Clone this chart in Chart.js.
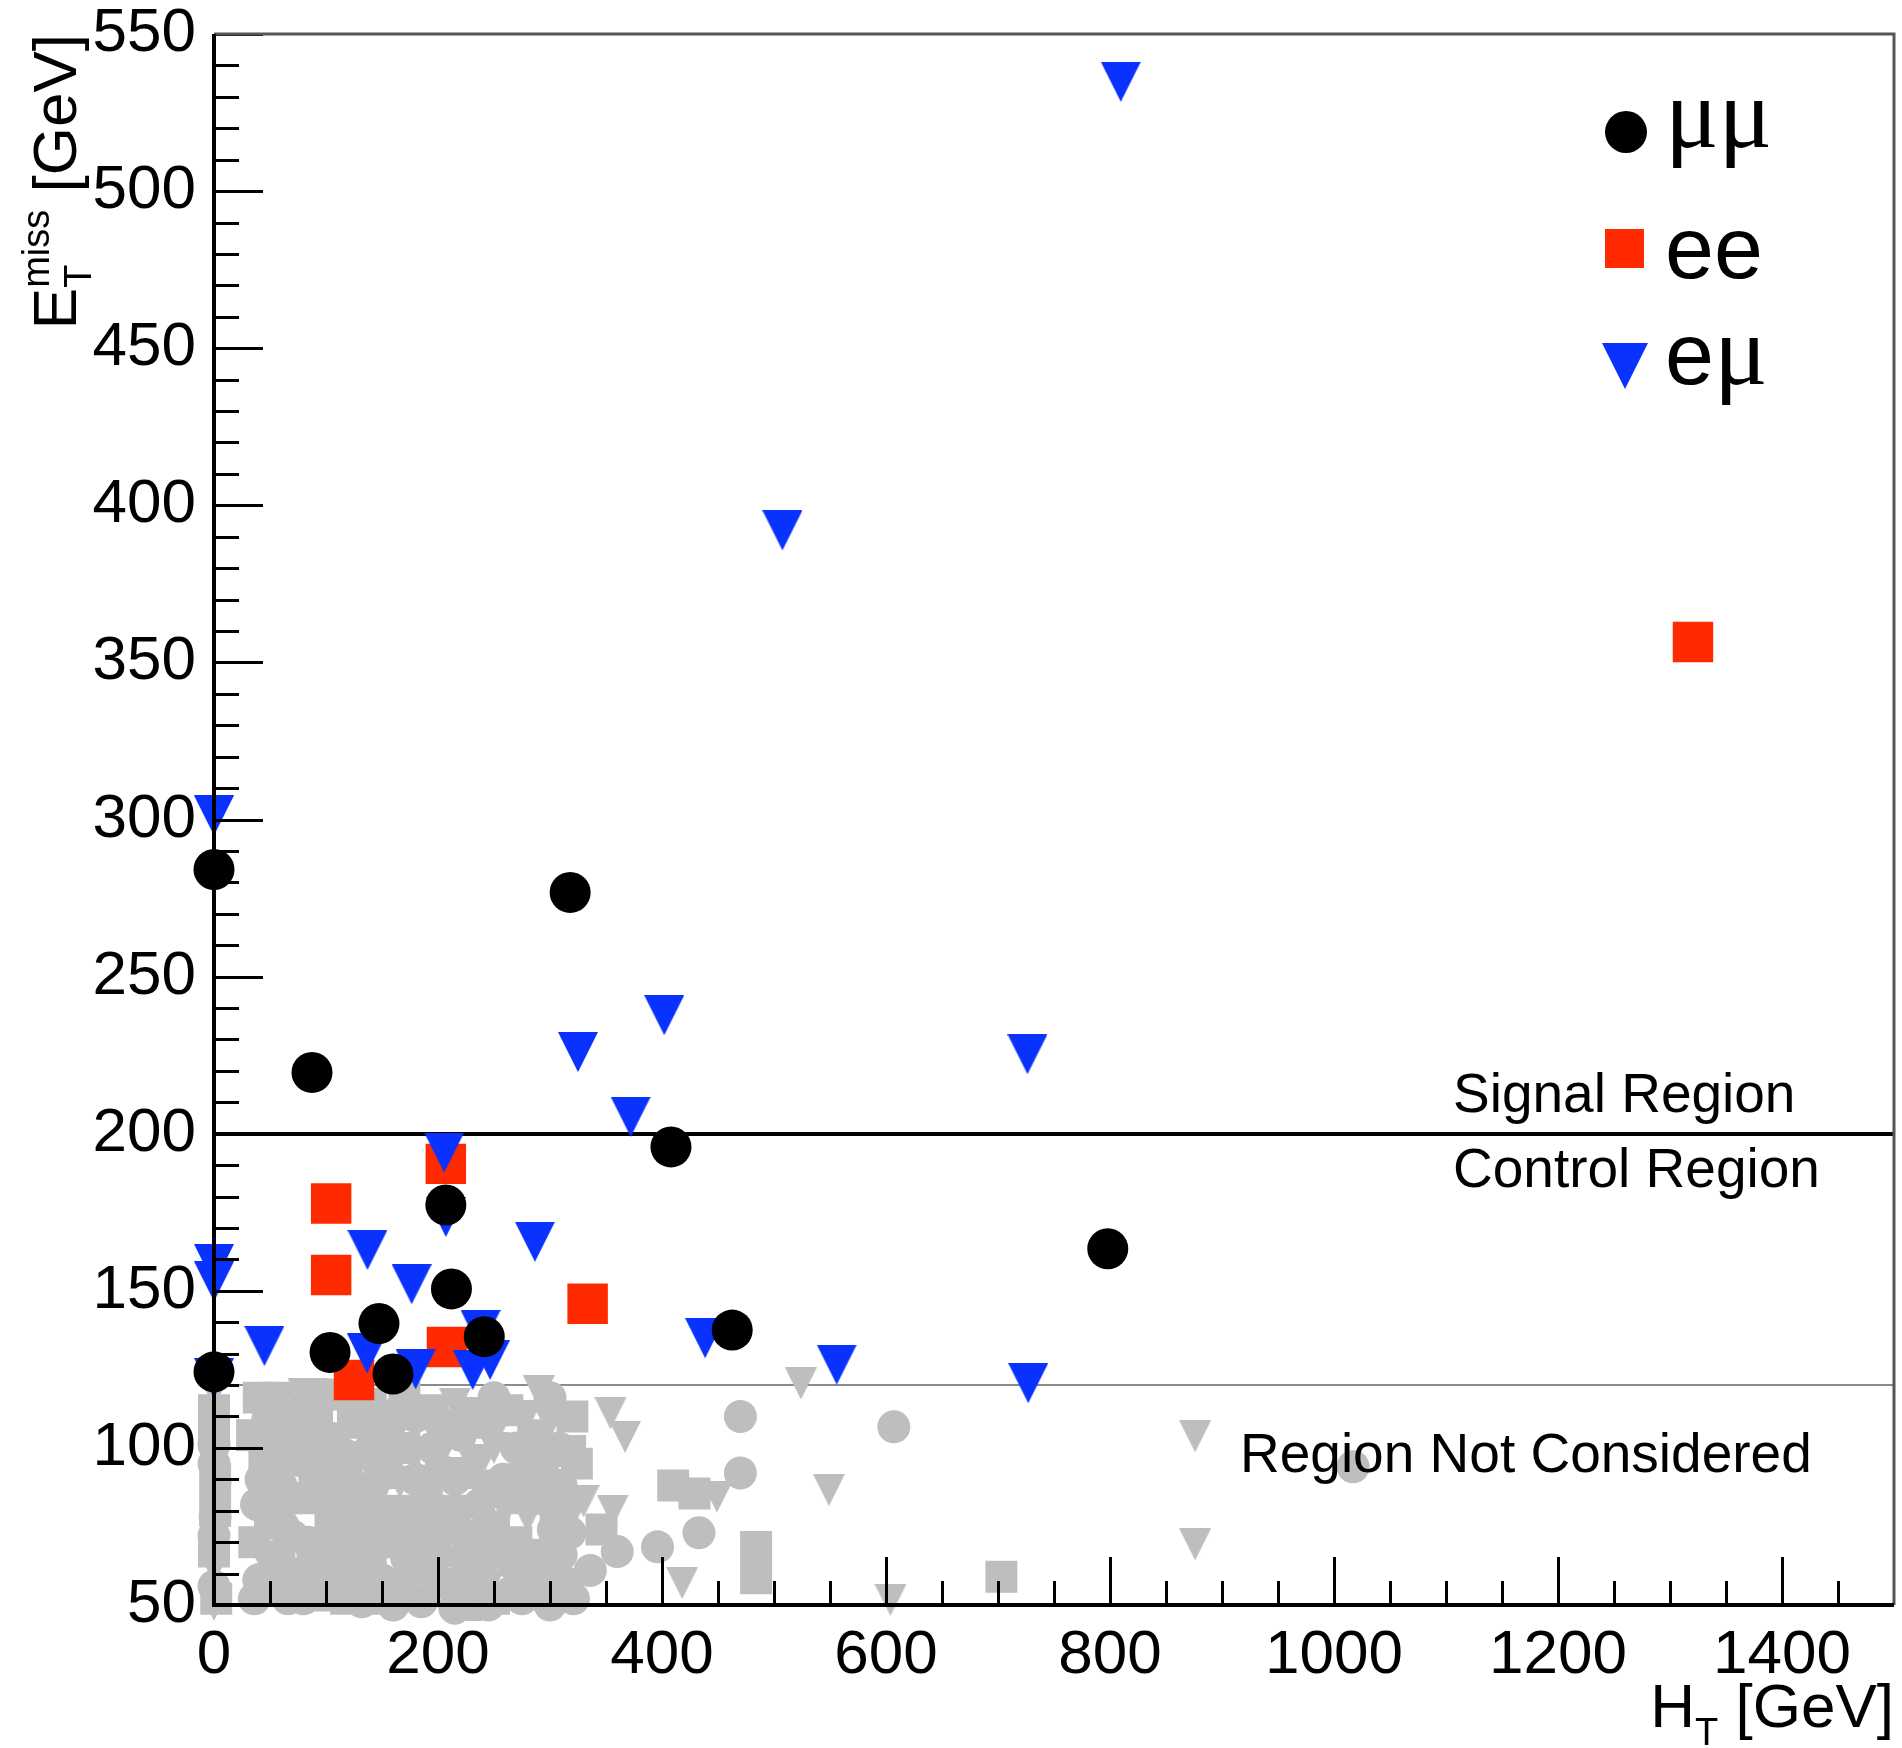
<!DOCTYPE html>
<html>
<head>
<meta charset="utf-8">
<title>MET vs HT</title>
<script src="https://cdn.jsdelivr.net/npm/chart.js@4.4.0/dist/chart.umd.min.js"></script>
<style>
  html, body { margin: 0; padding: 0; background: #fff; }
  #plot { display: block; }
</style>
</head>
<body>
<canvas id="plot" width="1902" height="1748"></canvas>
<script>
'use strict';

// selected events, split by flavour (HT, MET in GeV)
var mumuHT  = [0, 318, 87.5, 408, 207, 798, 212, 147.3, 241.3, 462.7, 103.6, 159.8, 0];
var mumuMET = [284.1, 276.8, 219.5, 195.8, 177.3, 163.4, 150.6, 139.6, 135.4, 137.5, 130.4, 123.5, 124.2];

var eeHT  = [1320.5, 207, 104.6, 104.6, 333.6, 208, 125];
var eeMET = [356.5, 190.4, 177.8, 155, 145.9, 132.1, 121.6];

var emuHT  = [809.6, 507.5, 0, 402, 325, 726.3, 372, 205.5, 0, 0, 137, 286.5, 176.5, 45, 136.5, 238, 438.5, 556, 727, 180, 231, 246.5, 207, 0];
var emuMET = [534.8, 392, 301.3, 237.7, 226, 225.3, 205.4, 194, 158.5, 153, 163, 165.6, 152.1, 132.4, 130.1, 137.5, 134.9, 126.5, 120.6, 125, 124.8, 128, 173.5, 122.2];

// events below the MET cut (all flavours, drawn in grey)
var lowCircleHT  = [0, 1, 0, 0, 0,
                    58, 84, 112, 138, 60, 90, 118, 142, 48, 86, 106, 158, 66, 132,
                    40, 62, 76, 104, 128, 150, 156, 98, 126, 42, 74, 146, 116, 88, 56, 134,
                    38, 70, 100, 124, 154, 80, 110, 140, 64, 36,
                    202, 163, 288, 202, 184, 303, 237, 172, 223, 267, 315, 160, 185, 215, 245, 275, 300, 230, 205, 258, 310,
                    180, 195, 220, 250, 270, 295, 180, 255, 285, 200, 240, 310, 170, 230, 265, 290, 180, 300,
                    192, 262, 215, 280, 308,
                    360, 336, 321, 470, 470, 433, 396, 318, 607, 1017];
var lowCircleMET = [56, 78, 101, 72, 95,
                    66, 70, 64, 62, 88, 90, 91, 88, 109, 113, 103, 108, 52, 51,
                    58, 75, 96, 86, 70, 58, 92, 117, 116, 90, 112, 108, 98, 104, 102, 86,
                    82, 72, 70, 60, 76, 52, 80, 100, 108, 52,
                    108, 111, 91, 93, 79, 74, 82, 65, 65, 63, 57, 50, 51, 49, 50, 52, 50, 72, 57, 90, 88,
                    90, 100, 104, 116, 100, 96, 72, 68, 56, 66, 64, 66, 56, 58, 54, 84, 110, 116,
                    80, 86, 90, 94, 100,
                    67, 61, 52, 110, 92, 73, 68.5, 73, 106.7, 94];

var lowSquareHT  = [2, 0, 1, 0, 0, 1,
                    46, 70, 95, 120, 143, 50, 78, 104, 128, 152, 45, 72, 98, 124, 150, 58, 110, 140,
                    64, 108, 136, 82, 40,
                    36, 56, 88, 114, 140, 162, 34, 62, 92, 118, 148,
                    184, 318, 267, 170, 195, 250, 290, 225, 262,
                    215, 245, 275, 190, 305, 230, 170,
                    175, 210, 240, 270, 300, 320, 285, 195, 250, 225,
                    324, 346, 410, 429, 484, 484, 703];
var lowSquareMET = [52, 67, 90, 112, 106, 80,
                    55, 60, 53, 57, 52, 76, 84, 74, 82, 70, 98, 105, 96, 108, 100, 116, 117, 114,
                    84, 62, 74, 60, 116,
                    70, 94, 66, 84, 64, 80, 104, 58, 110, 52, 92,
                    111, 99, 84, 100, 70, 75, 66, 92, 112,
                    80, 88, 90, 86, 80, 110, 116,
                    62, 74, 108, 70, 60, 110, 104, 112, 52, 50,
                    95, 74, 88, 85.5, 68.5, 58.5, 59];

var lowTriHT  = [0, 2, 0, 0,
                 44, 68, 96, 121, 148, 80, 132, 100, 54,
                 234, 279, 255, 238, 166, 208, 321, 215, 300, 245, 190, 280,
                 260, 200, 230, 290, 250,
                 354, 367, 330, 356, 449, 418,
                 524, 549, 604, 876, 876];
var lowTriMET = [118, 84, 62, 50,
                 65, 94, 81, 75, 80, 117, 97, 58, 83,
                 111, 110, 108, 95, 89, 80, 80, 114, 108, 56, 58, 78,
                 80, 96, 96, 118, 100,
                 111, 103.5, 83, 80, 84.5, 57,
                 120.5, 86.6, 51.6, 103.7, 69.3];

var xTickValues = [0, 200, 400, 600, 800, 1000, 1200, 1400];
var signalCut = 200;
var controlCut = 120;

var RED = '#ff2a00';
var BLUE = '#0a32ff';
var GREY = '#bebebe';
var FONT = '"Liberation Sans", Arial, Helvetica, sans-serif';

function toPoints(xs, ys) {
    var pts = [];
    for (var i = 0; i < xs.length; i++) {
        pts.push({x: xs[i], y: ys[i]});
    }
    return pts;
}

// ROOT style downward triangle, fills a square box
function downTriangle(size, color) {
    var c = document.createElement('canvas');
    c.width = size;
    c.height = size;
    var g = c.getContext('2d');
    g.fillStyle = color;
    g.beginPath();
    g.moveTo(0, 0);
    g.lineTo(size, 0);
    g.lineTo(size / 2, size);
    g.closePath();
    g.fill();
    return c;
}

function markerSet(label, xs, ys, color, style, radius) {
    return {
        label: label,
        data: toPoints(xs, ys),
        pointStyle: style,
        pointRadius: radius,
        pointHoverRadius: radius,
        pointBackgroundColor: color,
        pointBorderColor: color,
        pointBorderWidth: 0,
        backgroundColor: color,
        borderColor: color,
        showLine: false,
        clip: false
    };
}

// keep the frame where it is, labels may hang over the edges
function noScalePadding(scale) {
    scale.paddingTop = 0;
    scale.paddingBottom = 0;
    scale.paddingLeft = 0;
    scale.paddingRight = 0;
}

// cut lines drawn under the markers
var cutLines = {
    id: 'cutLines',
    beforeDatasetsDraw: function (chart) {
        var ctx = chart.ctx, a = chart.chartArea, ys = chart.scales.y;
        ctx.save();
        var yc = Math.round(ys.getPixelForValue(controlCut));
        ctx.strokeStyle = '#8c8c8c';
        ctx.lineWidth = 2;
        ctx.beginPath();
        ctx.moveTo(a.left, yc);
        ctx.lineTo(a.right, yc);
        ctx.stroke();
        var yss = Math.round(ys.getPixelForValue(signalCut));
        ctx.strokeStyle = '#000';
        ctx.lineWidth = 4;
        ctx.beginPath();
        ctx.moveTo(a.left, yss);
        ctx.lineTo(a.right, yss);
        ctx.stroke();
        ctx.restore();
    }
};

// frame, inner ticks, labels and legend on top of everything
var decorations = {
    id: 'decorations',
    afterDatasetsDraw: function (chart) {
        var ctx = chart.ctx, a = chart.chartArea;
        var xs = chart.scales.x, ys = chart.scales.y;
        var v, p, len;
        ctx.save();

        ctx.strokeStyle = '#000';
        ctx.lineWidth = 3;
        for (v = 50; v <= 550; v += 10) {
            p = Math.round(ys.getPixelForValue(v)) + 0.5;
            len = (v % 50 === 0) ? 49 : 25;
            ctx.beginPath();
            ctx.moveTo(a.left, p);
            ctx.lineTo(a.left + len, p);
            ctx.stroke();
        }
        for (v = 0; v < 1500; v += 50) {
            p = Math.round(xs.getPixelForValue(v)) + 0.5;
            len = (v % 200 === 0) ? 48 : 24;
            ctx.beginPath();
            ctx.moveTo(p, a.bottom);
            ctx.lineTo(p, a.bottom - len);
            ctx.stroke();
        }

        // top/right edges are a bit lighter than the axes
        ctx.strokeStyle = '#555';
        ctx.lineWidth = 3;
        ctx.beginPath();
        ctx.moveTo(a.left, a.top);
        ctx.lineTo(a.right, a.top);
        ctx.lineTo(a.right, a.bottom);
        ctx.stroke();
        ctx.strokeStyle = '#000';
        ctx.lineWidth = 4;
        ctx.beginPath();
        ctx.moveTo(a.left, a.top);
        ctx.lineTo(a.left, a.bottom);
        ctx.lineTo(a.right, a.bottom);
        ctx.stroke();

        // region labels
        ctx.fillStyle = '#000';
        ctx.textBaseline = 'alphabetic';
        ctx.textAlign = 'left';
        ctx.font = '55px ' + FONT;
        ctx.fillText('Signal Region', 1453, 1112);
        ctx.fillText('Control Region', 1453, 1187);
        ctx.fillText('Region Not Considered', 1240, 1472);

        drawAxisTitles(ctx, a);
        drawLegend(ctx);
        ctx.restore();
    }
};

function drawAxisTitles(ctx, a) {
    var big = '62px ' + FONT, small = '38px ' + FONT;
    ctx.save();
    ctx.fillStyle = '#000';
    ctx.textAlign = 'left';

    // H_T [GeV], flush with the right edge
    ctx.font = big;
    var wH = ctx.measureText('H').width;
    var wGeV = ctx.measureText(' [GeV]').width;
    ctx.font = small;
    var wT = ctx.measureText('T').width;
    var x0 = a.right - (wH + wT + wGeV);
    ctx.font = big;
    ctx.fillText('H', x0, 1727);
    ctx.font = small;
    ctx.fillText('T', x0 + wH, 1745);
    ctx.font = big;
    ctx.fillText(' [GeV]', x0 + wH + wT, 1727);

    // E_T^miss [GeV], rotated, ending at the top of the frame
    ctx.translate(76, 0);
    ctx.rotate(-Math.PI / 2);
    ctx.font = big;
    var wE = ctx.measureText('E').width;
    ctx.font = small;
    var wSub = Math.max(ctx.measureText('T').width, ctx.measureText('miss').width);
    var total = wE + wSub + wGeV;
    var u0 = -(a.top + total);
    ctx.font = big;
    ctx.fillText('E', u0, 0);
    ctx.font = small;
    ctx.fillText('T', u0 + wE, 15);
    ctx.fillText('miss', u0 + wE, -27);
    ctx.font = big;
    ctx.fillText(' [GeV]', u0 + wE + wSub, 0);
    ctx.restore();
}

function drawLegend(ctx) {
    ctx.save();
    ctx.fillStyle = '#000';
    ctx.beginPath();
    ctx.arc(1626, 132, 21, 0, Math.PI * 2);
    ctx.fill();
    ctx.fillStyle = RED;
    ctx.fillRect(1605, 229, 39, 39);
    ctx.drawImage(downTriangle(46, BLUE), 1602, 343);

    ctx.fillStyle = '#000';
    ctx.textAlign = 'left';
    ctx.textBaseline = 'alphabetic';
    var sans = '88px ' + FONT, greek = '100px "Liberation Serif", "Times New Roman", serif';
    ctx.font = greek;
    ctx.fillText('\u03bc\u03bc', 1665, 147);
    ctx.font = sans;
    ctx.fillText('ee', 1665, 278);
    var we = ctx.measureText('e').width;
    ctx.fillText('e', 1665, 384);
    ctx.font = greek;
    ctx.fillText('\u03bc', 1665 + we, 384);
    ctx.restore();
}

var tri = downTriangle(40, BLUE);
var greyTri = downTriangle(32, GREY);

var datasets = [
    markerSet('\u03bc\u03bc', mumuHT, mumuMET, '#000', 'circle', 20.5),
    markerSet('e\u03bc', emuHT, emuMET, BLUE, tri, 20),
    markerSet('ee', eeHT, eeMET, RED, 'rect', 28.6),
    markerSet('low MET', lowCircleHT, lowCircleMET, GREY, 'circle', 16.5),
    markerSet('low MET', lowSquareHT, lowSquareMET, GREY, 'rect', 22.6),
    markerSet('low MET', lowTriHT, lowTriMET, GREY, greyTri, 16)
];

var chart = new Chart(document.getElementById('plot'), {
    type: 'scatter',
    data: { datasets: datasets },
    options: {
        responsive: false,
        devicePixelRatio: 1,
        animation: false,
        events: [],
        layout: { autoPadding: false, padding: { top: 34, right: 8, left: 0, bottom: 0 } },
        plugins: {
            legend: { display: false },
            tooltip: { enabled: false },
            title: { display: false }
        },
        scales: {
            x: {
                type: 'linear',
                min: 0,
                max: 1500,
                grid: { display: false, drawTicks: false },
                border: { display: false },
                afterFit: function (scale) {
                    scale.height = 143;
                    noScalePadding(scale);
                },
                afterBuildTicks: function (scale) {
                    scale.ticks = xTickValues.map(function (v) { return {value: v}; });
                },
                ticks: {
                    color: '#000',
                    padding: 20,
                    maxRotation: 0,
                    autoSkip: false,
                    font: { family: FONT, size: 62, lineHeight: 1 },
                    callback: function (value) { return String(value); }
                }
            },
            y: {
                type: 'linear',
                min: 50,
                max: 550,
                grid: { display: false, drawTicks: false },
                border: { display: false },
                afterFit: function (scale) {
                    scale.width = 214;
                    noScalePadding(scale);
                },
                ticks: {
                    color: '#000',
                    stepSize: 50,
                    padding: 18,
                    font: { family: FONT, size: 62, lineHeight: 1 },
                    callback: function (value) { return String(value); }
                }
            }
        }
    },
    plugins: [cutLines, decorations]
});
</script>
</body>
</html>
